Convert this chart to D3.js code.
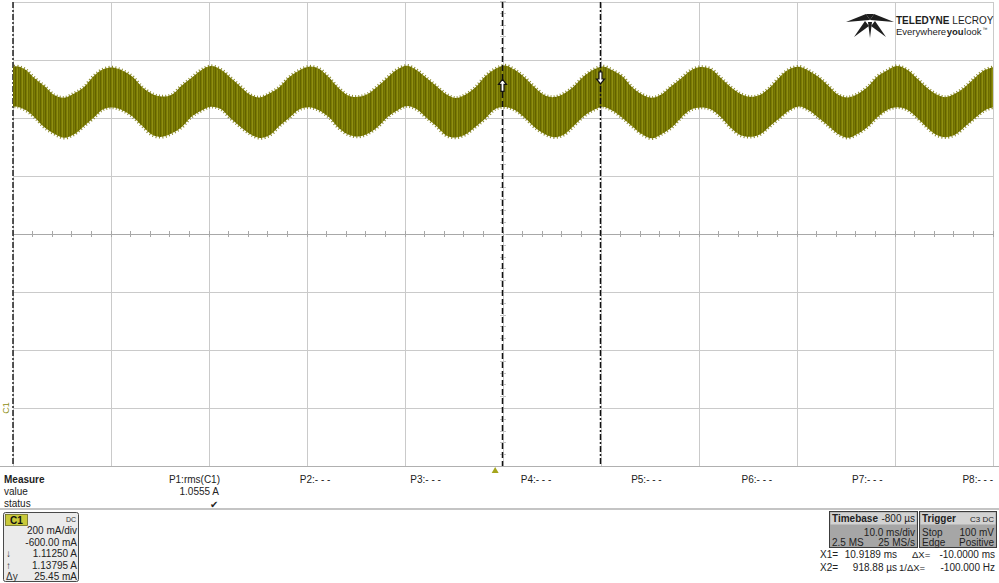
<!DOCTYPE html>
<html>
<head>
<meta charset="utf-8">
<script src="https://cdn.jsdelivr.net/npm/d3@7"></script>
<style>
body{margin:0;background:#fff;overflow:hidden;}
svg{display:block;font-family:"Liberation Sans",Arial,sans-serif;}
</style>
</head>
<body>
<div id="scope_container"></div>
<script>

// envelope of the C1 trace (time in ms, current in A)
var TIME_MS = [
  -50,-49,-48,-47,-46,-45,-44,-43,-42,-41,
  -40,-39,-38,-37,-36,-35,-34,-33,-32,-31,
  -30,-29,-28,-27,-26,-25,-24,-23,-22,-21,
  -20,-19,-18,-17,-16,-15,-14,-13,-12,-11,
  -10,-9,-8,-7,-6,-5,-4,-3,-2,-1,
  0,1,2,3,4,5,6,7,8,9,
  10,11,12,13,14,15,16,17,18,19,
  20,21,22,23,24,25,26,27,28,29,
  30,31,32,33,34,35,36,37,38,39,
  40,41,42,43,44,45,46,47,48,49,
  50,51];
var UPPER_A = [
  1.163,1.178,1.168,1.137,1.110,1.079,1.070,1.084,1.105,1.143,
  1.168,1.174,1.163,1.142,1.106,1.083,1.074,1.080,1.111,1.138,
  1.165,1.179,1.167,1.139,1.109,1.080,1.071,1.085,1.107,1.141,
  1.164,1.177,1.170,1.141,1.104,1.078,1.073,1.083,1.109,1.139,
  1.167,1.180,1.165,1.138,1.110,1.082,1.069,1.081,1.106,1.144,
  1.169,1.181,1.166,1.140,1.107,1.079,1.072,1.084,1.108,1.142,
  1.166,1.178,1.164,1.143,1.105,1.081,1.070,1.082,1.110,1.137,
  1.165,1.176,1.169,1.139,1.108,1.084,1.073,1.079,1.104,1.140,
  1.168,1.177,1.163,1.141,1.111,1.080,1.071,1.083,1.107,1.143,
  1.164,1.179,1.167,1.138,1.106,1.082,1.072,1.085,1.109,1.140,
  1.166,1.177];
var LOWER_A = [
  1.027,1.040,1.029,1.003,0.968,0.946,0.932,0.943,0.971,1.000,
  1.030,1.036,1.026,1.005,0.972,0.942,0.935,0.947,0.968,1.004,
  1.025,1.039,1.031,0.999,0.970,0.945,0.931,0.941,0.973,1.001,
  1.029,1.037,1.027,1.004,0.967,0.943,0.936,0.946,0.969,1.003,
  1.026,1.041,1.030,1.001,0.972,0.940,0.933,0.944,0.970,0.998,
  1.031,1.038,1.028,1.002,0.969,0.946,0.934,0.942,0.972,1.005,
  1.027,1.039,1.025,1.000,0.971,0.944,0.930,0.945,0.967,1.002,
  1.029,1.036,1.030,1.004,0.968,0.941,0.935,0.943,0.971,0.999,
  1.026,1.040,1.027,1.001,0.973,0.945,0.932,0.946,0.969,1.003,
  1.028,1.037,1.029,1.003,0.970,0.942,0.934,0.944,0.972,1.001,
  1.027,1.039];

// screen grid: 10 ms/div, delay -800 us ; 200 mA/div, offset -600 mA
var GRID_MS = [-49.2,-39.2,-29.2,-19.2,-9.2,0.8,10.8,20.8,30.8,40.8,50.8];
var GRID_A = [-0.2,0,0.2,0.4,0.6,0.8,1.0,1.2,1.4];
var TRIGGER_MS = 0;

// cursors: X2 then X1
var CURSOR_MS = [0.91888, 10.9189];
var CURSOR_A = [1.11250, 1.13795];
var CURSOR_DIR = ["up", "down"];

var MEASURE_NAMES = ["P1:rms(C1)","P2:- - -","P3:- - -","P4:- - -","P5:- - -","P6:- - -","P7:- - -","P8:- - -"];
var MEASURE_VALUES = ["1.0555 A","","","","","","",""];
var MEASURE_STATUS = ["\u2714","","","","","","",""];

var C1_LINES = ["200 mA/div","-600.00 mA","1.11250 A","1.13795 A","25.45 mA"];
var C1_SYMBOLS = ["","","\u2193","\u2191","\u0394y"];

var W = 999, H = 583;
var PLOT = {left: 13, right: 993, top: 2, bottom: 466};
var TRACE_COLOR = "#7b7b03";

var svg = d3.select("#scope_container").append("svg")
    .attr("width", W).attr("height", H);

var x = d3.scaleLinear().domain([GRID_MS[0], GRID_MS[GRID_MS.length-1]]).range([PLOT.left, PLOT.right]);
var y = d3.scaleLinear().domain([GRID_A[0], GRID_A[GRID_A.length-1]]).range([PLOT.bottom, PLOT.top]);

drawGrid();
drawTrace();
drawCursors();
drawLogo();
drawMeasure();
drawChannelBox();
drawTimebase();

function drawGrid(){
    let g = svg.append("g");
    g.selectAll("line.v").data(GRID_MS).enter().append("line")
        .attr("x1", d => x(d)).attr("x2", d => x(d))
        .attr("y1", PLOT.top).attr("y2", PLOT.bottom)
        .attr("stroke", "#cacaca").attr("stroke-width", 1)
        .attr("shape-rendering", "crispEdges");
    g.selectAll("line.h").data(GRID_A).enter().append("line")
        .attr("x1", PLOT.left).attr("x2", PLOT.right)
        .attr("y1", d => y(d)).attr("y2", d => y(d))
        .attr("stroke", d => d == 0.6 ? "#a8a8a8" : "#cacaca").attr("stroke-width", 1)
        .attr("shape-rendering", "crispEdges");

    // minor ticks on the centre lines, 5 per div
    let ticks = d3.range(GRID_MS[0], GRID_MS[GRID_MS.length-1] + 0.01, 2);
    g.selectAll("line.tk").data(ticks).enter().append("line")
        .attr("x1", d => x(d)).attr("x2", d => x(d))
        .attr("y1", y(0.6) - 3).attr("y2", y(0.6) + 3)
        .attr("stroke", "#a8a8a8").attr("shape-rendering", "crispEdges");
    let vticks = d3.range(GRID_A[0], GRID_A[GRID_A.length-1] + 0.001, 0.04);
    g.selectAll("line.vtk").data(vticks).enter().append("line")
        .attr("x1", x(0.8) - 3).attr("x2", x(0.8) + 3)
        .attr("y1", d => y(d)).attr("y2", d => y(d))
        .attr("stroke", "#c4c4c4").attr("shape-rendering", "crispEdges");

    // darker bottom edge across the screen
    svg.append("line")
        .attr("x1", 0).attr("x2", W).attr("y1", PLOT.bottom).attr("y2", PLOT.bottom)
        .attr("stroke", "#b0b0b0").attr("shape-rendering", "crispEdges");

    // left edge marker line
    svg.append("line")
        .attr("x1", PLOT.left).attr("x2", PLOT.left)
        .attr("y1", PLOT.top).attr("y2", PLOT.bottom)
        .attr("stroke", "#222").attr("stroke-width", 1.5)
        .attr("stroke-dasharray", "6,2,2,2");

    // trigger position marker
    let tx = x(TRIGGER_MS);
    svg.append("path")
        .attr("d", `M${tx-3.5},${PLOT.bottom+7}L${tx},${PLOT.bottom+1}L${tx+3.5},${PLOT.bottom+7}Z`)
        .attr("fill", "#a5a51c");

    // channel ground marker
    svg.append("text")
        .attr("transform", `translate(${PLOT.left-4},${y(0)}) rotate(-90)`)
        .attr("text-anchor", "middle")
        .attr("font-size", 9)
        .attr("fill", "#8d8d10")
        .text("C1");
}

function drawTrace(){
    let defs = svg.append("defs");
    defs.append("clipPath").attr("id", "plotclip")
        .append("rect")
        .attr("x", PLOT.left).attr("y", PLOT.top)
        .attr("width", PLOT.right - PLOT.left).attr("height", PLOT.bottom - PLOT.top);

    let pat = defs.append("pattern").attr("id", "noise")
        .attr("patternUnits", "userSpaceOnUse")
        .attr("width", 5).attr("height", 8);
    pat.append("rect").attr("width", 5).attr("height", 8).attr("fill", TRACE_COLOR);
    pat.append("rect").attr("x", 0).attr("width", 1).attr("height", 8).attr("fill", "#636300");
    pat.append("rect").attr("x", 2).attr("width", 1).attr("height", 8).attr("fill", "#8f8f14");
    pat.append("rect").attr("x", 3).attr("width", 1).attr("height", 8).attr("fill", "#6c6c00");

    let data = TIME_MS.map((t, i) => ({t: t, hi: UPPER_A[i], lo: LOWER_A[i]}));

    let area = d3.area()
        .x(d => x(d.t))
        .y0(d => y(d.lo))
        .y1(d => y(d.hi))
        .curve(d3.curveCatmullRom);

    let g = svg.append("g").attr("clip-path", "url(#plotclip)");
    g.append("path").datum(data)
        .attr("d", area)
        .attr("fill", "url(#noise)");

    // fuzzy edges from the noise spikes
    let edgeHi = d3.line().x(d => x(d.t)).y(d => y(d.hi)).curve(d3.curveCatmullRom);
    let edgeLo = d3.line().x(d => x(d.t)).y(d => y(d.lo)).curve(d3.curveCatmullRom);
    [edgeHi, edgeLo].forEach(function(ln){
        g.append("path").datum(data)
            .attr("d", ln)
            .attr("fill", "none")
            .attr("stroke", "#767602")
            .attr("stroke-width", 3.5)
            .attr("stroke-opacity", 0.85)
            .attr("stroke-dasharray", "1,2.3");
    });
}

function drawCursors(){
    let dashes = ["6,3", "6,2,2,2"];
    CURSOR_MS.forEach(function(t, i){
        let cx = Math.round(x(t)) - 0.5 - 1;
        svg.append("line")
            .attr("x1", cx).attr("x2", cx)
            .attr("y1", PLOT.top).attr("y2", PLOT.bottom)
            .attr("stroke", "#111").attr("stroke-width", 1.5)
            .attr("stroke-dasharray", dashes[i]);

        let cy = y(CURSOR_A[i]);
        let s = CURSOR_DIR[i] == "up" ? -1 : 1;
        let p = [[0, s*6], [4, s*1], [1.5, s*1], [1.5, -s*6], [-1.5, -s*6], [-1.5, s*1], [-4, s*1]];
        svg.append("path")
            .attr("d", "M" + p.map(q => (cx + q[0]) + "," + (cy + q[1])).join("L") + "Z")
            .attr("fill", "#fff").attr("stroke", "#111").attr("stroke-width", 1.2);
    });
}

function drawLogo(){
    let g = svg.append("g").attr("fill", "#1e1e1e");
    let shapes = [
        [[846,22],[866,14],[870,20]],
        [[894,22],[874,14],[870,20]],
        [[866,14],[874,14],[870,20]],
        [[865,21],[854,37],[869,26]],
        [[868,22],[870,38],[872,22]],
        [[875,21],[886,37],[871,26]]
    ];
    g.selectAll("path").data(shapes).enter().append("path")
        .attr("d", d => "M" + d.map(q => q.join(",")).join("L") + "Z");

    // logo words laid out one after another, measured so they never overlap
    let lines = [
        {y: 24, size: 10, words: [["TELEDYNE", true], ["LECROY", false]], gap: 3},
        {y: 35, size: 9.5, words: [["Everywhere", false], ["you", true], ["look", false]], gap: 0.5}
    ];
    lines.forEach(function(ln){
        let cx = 896;
        ln.words.forEach(function(w){
            let t = svg.append("text").attr("x", cx).attr("y", ln.y)
                .attr("font-size", ln.size)
                .attr("font-weight", w[1] ? "bold" : "normal")
                .attr("fill", "#1e1e1e")
                .text(w[0]);
            cx += t.node().getComputedTextLength() + ln.gap;
        });
        if(ln.words.length == 3){
            svg.append("text").attr("x", cx + 0.5).attr("y", ln.y - 4).attr("font-size", 5)
                .attr("fill", "#1e1e1e").text("\u2122");
        }
    });
}

function drawMeasure(){
    let g = svg.append("g").attr("font-size", 10).attr("fill", "#222");
    g.append("text").attr("x", 4).attr("y", 483).attr("font-weight", "bold").text("Measure");
    g.append("text").attr("x", 4).attr("y", 495).text("value");
    g.append("text").attr("x", 4).attr("y", 507).text("status");

    let colX = d3.scaleLinear().domain([0, 7]).range([220, 993]);
    MEASURE_NAMES.forEach(function(name, i){
        g.append("text").attr("x", colX(i)).attr("y", 483)
            .attr("text-anchor", "end").text(name);
        if(MEASURE_VALUES[i] != ""){
            g.append("text").attr("x", colX(i) - 1).attr("y", 495)
                .attr("text-anchor", "end").text(MEASURE_VALUES[i]);
        }
        if(MEASURE_STATUS[i] != ""){
            g.append("text").attr("x", colX(i) - 2).attr("y", 508)
                .attr("text-anchor", "end").attr("font-size", 10).text(MEASURE_STATUS[i]);
        }
    });

    svg.append("rect").attr("x", 0).attr("y", 508).attr("width", W).attr("height", 2)
        .attr("fill", "#c4c4c4");
}

function drawChannelBox(){
    let g = svg.append("g");
    g.append("rect").attr("x", 3.5).attr("y", 512.5).attr("width", 75).attr("height", 69)
        .attr("rx", 2).attr("fill", "#ebebeb").attr("stroke", "#4a4a4a");
    g.append("rect").attr("x", 5.5).attr("y", 514.5).attr("width", 22).attr("height", 11)
        .attr("fill", "#c9c93a").attr("stroke", "#6a6a20").attr("stroke-width", 0.8);
    g.append("text").attr("x", 16.5).attr("y", 523.5).attr("text-anchor", "middle")
        .attr("font-size", 10).attr("font-weight", "bold").attr("fill", "#111").text("C1");
    g.append("text").attr("x", 76).attr("y", 522).attr("text-anchor", "end")
        .attr("font-size", 7).attr("fill", "#333").text("DC");

    let rowY = [534, 545.5, 557, 568.5, 580];
    C1_LINES.forEach(function(txt, i){
        g.append("text").attr("x", 77).attr("y", rowY[i]).attr("text-anchor", "end")
            .attr("font-size", 10).attr("fill", "#222").text(txt);
        if(C1_SYMBOLS[i] != ""){
            g.append("text").attr("x", 6).attr("y", rowY[i])
                .attr("font-size", 10).attr("fill", "#333").text(C1_SYMBOLS[i]);
        }
    });
}

function drawTimebase(){
    let g = svg.append("g").attr("font-size", 10).attr("fill", "#222");
    let boxes = [
        {x: 829, w: 88, title: "Timebase", tag: "-800 \u00b5s", tagSize: 10,
         rows: [["", "10.0 ms/div"], ["2.5 MS", "25 MS/s"]]},
        {x: 919, w: 77, title: "Trigger", tag: "C3  DC", tagSize: 8,
         rows: [["Stop", "100 mV"], ["Edge", "Positive"]]}
    ];
    boxes.forEach(function(b){
        g.append("rect").attr("x", b.x + 0.5).attr("y", 511.5).attr("width", b.w).attr("height", 36)
            .attr("fill", "#a6a6a6").attr("stroke", "#3c3c3c");
        g.append("rect").attr("x", b.x + 1.5).attr("y", 512.5).attr("width", b.w - 2).attr("height", 12)
            .attr("fill", "#d2d2d2");
        g.append("text").attr("x", b.x + 3).attr("y", 522).attr("font-weight", "bold").text(b.title);
        g.append("text").attr("x", b.x + b.w - 2).attr("y", 522).attr("text-anchor", "end")
            .attr("font-size", b.tagSize).text(b.tag);
        b.rows.forEach(function(r, i){
            let ry = 535.5 + i * 10.5;
            g.append("text").attr("x", b.x + 3).attr("y", ry).text(r[0]);
            g.append("text").attr("x", b.x + b.w - 2).attr("y", ry).attr("text-anchor", "end").text(r[1]);
        });
    });

    // cursor readout: label, value, delta label, delta value
    let cur = [
        ["X1=", "10.9189 ms", "\u0394X=", "-10.0000 ms"],
        ["X2=", "918.88 \u00b5s", "1/\u0394X=", "-100.000 Hz"]
    ];
    let labelX = [912, 899];
    cur.forEach(function(r, i){
        let ry = 558 + i * 12.5;
        g.append("text").attr("x", 820).attr("y", ry).text(r[0]);
        g.append("text").attr("x", 897).attr("y", ry).attr("text-anchor", "end").text(r[1]);
        g.append("text").attr("x", labelX[i]).attr("y", ry).attr("font-size", 9.5).text(r[2]);
        g.append("text").attr("x", 995).attr("y", ry).attr("text-anchor", "end").text(r[3]);
    });
}
</script>
</body>
</html>
